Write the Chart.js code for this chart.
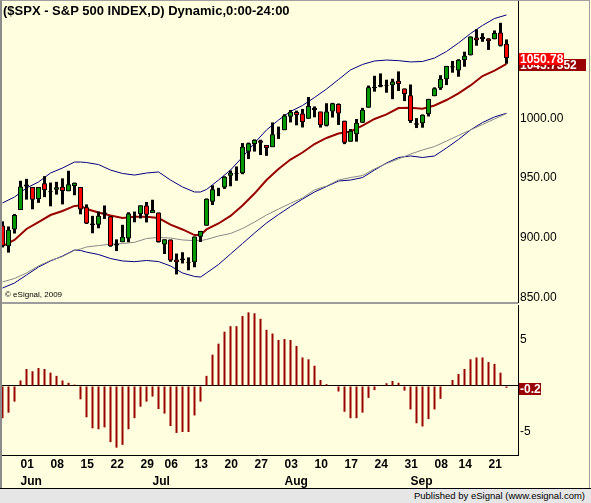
<!DOCTYPE html>
<html>
<head>
<meta charset="utf-8">
<title>$SPX - S&amp;P 500 INDEX,D</title>
<script src="https://cdn.jsdelivr.net/npm/chart.js@4.4.1/dist/chart.umd.min.js"></script>
<style>
    html, body { margin: 0; padding: 0; background: #FFFFE0; }
    #pantalla { position: relative; width: 591px; height: 503px; background: #FFFFE0; overflow: hidden;
        font-family: "Liberation Sans", Arial, sans-serif; color: #000; }
    #grafico1 { position: absolute; left: 0; top: 0; }
    #grafico2 { position: absolute; left: 0; top: 305px; }
    #titulo { position: absolute; left: 3px; top: 4px; font-weight: bold; font-size: 13px; line-height: 13px; white-space: nowrap; }
    #copy { position: absolute; left: 5px; top: 291px; font-size: 8px; line-height: 8px; white-space: nowrap; }
    #separador { position: absolute; left: 0; top: 302px; width: 518px; height: 2px; background: #9c9c9c; }
    #marco { position: absolute; left: 0; top: 0; width: 587px; height: 488px; border-left: 2px solid #8c8c8c;
        border-top: 1px solid #a0a0a0; border-right: 1px solid #a0a0a0; pointer-events: none; }
    #lineaPie { position: absolute; left: 0; top: 488px; width: 591px; height: 1px; background: #000; }
    #pie { position: absolute; left: 0; top: 489px; width: 585px; height: 14px; padding-right: 6px; background: #E6E6E6;
        font-size: 9.5px; line-height: 14px; text-align: right; white-space: nowrap; }
</style>
</head>
<body>
<div id="pantalla">
    <canvas id="grafico1" width="590" height="303"></canvas>
    <canvas id="grafico2" width="590" height="183"></canvas>
    <div id="separador"></div>
    <div id="titulo">($SPX - S&amp;P 500 INDEX,D) Dynamic,0:00-24:00</div>
    <div id="copy">© eSignal, 2009</div>
    <div id="marco"></div>
    <div id="lineaPie"></div>
    <div id="pie">Published by eSignal (www.esignal.com)</div>
</div>
<script>
// Velas diarias del 27 de mayo al 24 de septiembre de 2009 (indice 0 = 27 may)
const aperturas = [
    910.3, 893.0, 907.0, 923.3, 942.9, 942.5, 932.5, 945.7, 938.1, 940.3,
    942.7, 939.0, 943.4, 942.5, 925.6, 911.9, 910.9, 920.0, 918.1, 893.5,
    896.3, 899.5, 918.8, 919.9, 927.1, 920.8, 921.2, 894.3, 898.6, 881.9,
    881.3, 880.0, 879.6, 900.8, 910.2, 930.2, 940.6, 942.1, 952.0, 953.4,
    954.1, 972.2, 978.6, 981.5, 977.7, 976.0, 986.8, 990.2, 1001.4, 1005.4,
    1004.1, 999.8, 1008.9, 1005.8, 994.0, 1005.9, 1012.2, 998.2, 980.6, 986.9,
    996.4, 1009.1, 1026.6, 1026.6, 1027.4, 1027.8, 1031.6, 1025.2, 1019.5, 996.1,
    996.1, 1003.8, 1018.7, 1025.4, 1033.0, 1043.9, 1040.2, 1049.0, 1053.0, 1067.9,
    1066.6, 1067.1, 1066.4, 1072.1, 1062.6
];
const maximos = [
    913.8, 909.5, 920.0, 947.8, 949.4, 942.5, 942.5, 951.7, 946.3, 946.9,
    949.8, 956.2, 946.3, 942.5, 928.0, 918.4, 922.0, 927.1, 918.1, 898.7,
    910.9, 921.4, 922.0, 927.1, 930.0, 931.9, 921.2, 898.7, 898.6, 886.8,
    887.9, 883.6, 901.1, 905.8, 933.0, 944.0, 941.9, 951.6, 956.5, 959.8,
    979.4, 979.8, 982.5, 982.2, 977.8, 996.7, 993.2, 1003.6, 1007.1, 1006.6,
    1008.0, 1018.0, 1010.1, 1005.8, 1012.8, 1013.1, 1012.6, 998.2, 991.2, 999.6,
    1008.9, 1027.6, 1035.8, 1037.8, 1032.5, 1033.3, 1039.5, 1025.2, 1028.5, 1000.3,
    1003.4, 1016.5, 1026.1, 1036.3, 1044.1, 1048.2, 1049.7, 1056.0, 1068.8, 1074.8,
    1071.5, 1067.3, 1073.8, 1080.2, 1066.3
];
const minimos = [
    891.9, 887.6, 903.6, 923.3, 932.0, 923.9, 929.3, 934.1, 926.4, 936.2,
    928.0, 939.0, 935.7, 919.7, 911.6, 903.8, 908.0, 915.8, 892.5, 888.9,
    896.3, 896.3, 913.0, 916.2, 912.9, 920.8, 896.0, 886.4, 879.9, 869.3,
    878.5, 872.8, 875.3, 896.5, 910.2, 927.5, 934.9, 941.0, 943.2, 947.8,
    953.3, 966.0, 972.3, 969.4, 968.7, 976.0, 982.9, 990.2, 996.7, 994.3,
    992.5, 999.8, 1001.0, 992.4, 993.4, 1000.8, 994.6, 978.5, 980.6, 980.6,
    996.4, 1009.1, 1022.5, 1026.2, 1021.6, 1016.2, 1023.1, 1014.6, 996.3, 992.0,
    992.3, 1001.7, 1018.7, 1024.0, 1028.0, 1038.4, 1035.0, 1043.4, 1052.9, 1061.0,
    1064.3, 1057.5, 1066.4, 1060.4, 1045.9
];
const cierres = [
    893.1, 906.8, 919.1, 942.9, 944.7, 931.8, 942.5, 940.1, 939.1, 942.4,
    939.2, 944.9, 946.2, 923.7, 912.0, 910.7, 918.4, 921.2, 893.0, 895.1,
    900.9, 920.3, 918.9, 927.2, 919.3, 923.3, 896.4, 898.7, 881.0, 879.6,
    882.7, 879.1, 901.1, 905.8, 932.7, 940.7, 940.4, 951.1, 954.6, 954.1,
    976.3, 979.3, 982.2, 979.6, 975.2, 986.8, 987.5, 1002.6, 1005.7, 1002.7,
    997.1, 1010.5, 1007.1, 994.4, 1005.8, 1012.7, 1004.1, 979.7, 989.7, 996.5,
    1007.4, 1026.1, 1025.6, 1028.0, 1028.1, 1031.0, 1028.9, 1020.6, 998.0, 994.8,
    1003.2, 1016.4, 1025.4, 1033.4, 1044.1, 1042.7, 1049.3, 1052.6, 1068.8, 1065.5,
    1068.3, 1064.7, 1071.7, 1060.9, 1050.78
];

// Oscilador del panel inferior (un valor por vela)
const oscilador = [
    -3.5, -2.9, -1.7, 0.6, 1.85, 1.6, 1.95, 1.85, 1.45, 1.1,
    0.6, 0.35, 0.15, -1.45, -3.4, -4.6, -4.7, -4.5, -6.1, -6.7,
    -6.4, -4.7, -3.5, -2.25, -1.7, -1.15, -2.5, -3.0, -4.35, -5.1,
    -5.0, -5.0, -3.2, -1.7, 1.1, 3.4, 4.6, 5.9, 6.5, 6.5,
    7.6, 8.0, 7.9, 7.3, 6.1, 5.7, 5.0, 5.1, 5.0, 4.35,
    3.1, 2.9, 2.2, 0.65, 0.2, 0.1, -0.6, -2.8, -3.5, -3.5,
    -2.9, -1.3, -0.45, 0.1, 0.3, 0.55, 0.35, -0.5, -2.55, -4.05,
    -4.4, -3.6, -2.55, -1.4, 0.1, 0.65, 1.3, 1.85, 2.9, 3.1,
    3.1, 2.6, 2.4, 1.45, -0.2
];

const muestras = [0, 2, 4, 6, 8, 10, 12, 13, 14, 16, 18, 20, 22, 24, 26, 28, 30, 32, 33, 34,
    36, 38, 40, 42, 44, 46, 48, 50, 52, 54, 56, 58, 60, 62, 64, 66, 68, 70, 72, 74, 76, 78, 80, 82, 84];
const promedio = [893.1, 898.2, 907.4, 913.2, 919.1, 922.5, 926.7, 927.1, 924.1, 921.2,
    918.7, 916.6, 917.7, 917.7, 916.6, 911.1, 907.0, 902.3, 902.3, 907.0,
    912.0, 918.3, 927.1, 937.1, 948.4, 957.7, 965.6, 971.5, 978.6, 983.7,
    987.4, 989.1, 994.1, 999.6, 1003.4, 1008.8, 1009.1, 1008.1, 1010.9, 1015.5,
    1021.0, 1027.7, 1035.6, 1040.2, 1045.7352];
const bandaSuperior = [929.2, 934.2, 941.7, 946.8, 954.3, 958.5, 963.5, 963.5, 963.1, 961.4,
    956.8, 953.9, 952.6, 954.3, 955.2, 948.4, 942.6, 938.4, 938.4, 940.5,
    948.4, 956.8, 967.7, 979.5, 990.4, 998.7, 1005.9, 1010.9, 1017.6, 1024.7,
    1032.7, 1040.7, 1045.3, 1048.2, 1049.0, 1048.5, 1047.4, 1047.8, 1050.7, 1056.2,
    1063.3, 1071.2, 1078.0, 1083.8, 1086.8];
const bandaInferior = [857.9, 862.1, 868.8, 875.5, 880.6, 884.7, 889.8, 889.4, 888.0, 886.0,
    882.6, 880.6, 880.0, 881.0, 880.1, 876.4, 870.5, 867.6, 867.1, 870.5,
    877.6, 886.4, 895.2, 904.0, 912.4, 919.5, 926.2, 932.5, 938.4, 943.0,
    947.6, 948.4, 950.5, 956.8, 962.7, 967.3, 968.6, 967.3, 968.6, 975.3,
    982.4, 990.4, 996.6, 1001.3, 1004.4];
const lineaGris = [863.0, 865.9, 870.5, 876.4, 881.0, 884.3, 889.4, 890.6, 892.3, 893.5,
    894.6, 895.2, 896.2, 899.4, 900.3, 899.8, 898.2, 897.6, 897.6, 898.6,
    901.5, 903.6, 907.8, 913.2, 919.1, 924.1, 928.9, 933.4, 940.1, 943.4,
    948.4, 950.5, 952.2, 957.7, 962.3, 966.1, 970.2, 973.6, 976.5, 981.1,
    985.8, 990.4, 995.0, 999.6, 1004.2];

// Etiquetas de fechas
const indSemana = [3, 8, 13, 18, 23, 27, 32, 37, 42, 47, 52, 57, 62, 67, 72, 76, 81];
const diasSemana = ['01', '08', '15', '22', '29', '06', '13', '20', '27', '03', '10', '17', '24', '31', '08', '14', '21'];
const indMes = [3, 25, 47, 68];
const nombresMes = ['Jun', 'Jul', 'Aug', 'Sep'];

const ticksPrecio = [850, 900, 950, 1000, 1050];
const ticksOsc = [-5, 0, 5];

Chart.defaults.font.family = '"Liberation Sans", Arial, sans-serif';
Chart.defaults.color = '#000';

class graficos {

    static grafico1;
    static grafico2;
    static ejeX = { min: -0.41667, max: 85.91667 }; // 6 px por vela

    // Recuadro con el valor actual a la derecha del eje
    static pluginEtiquetas(items) {
        return {
            id: 'etiquetas',
            afterDraw(chart) {
                const ctx = chart.ctx;
                const escala = chart.scales.y;
                const x0 = chart.chartArea.right + 1;
                ctx.save();
                ctx.font = 'bold 12px "Liberation Sans", Arial, sans-serif';
                ctx.textBaseline = 'middle';
                items.forEach(it => {
                    const py = Math.round(escala.getPixelForValue(it.valor)) + 1;
                    ctx.fillStyle = it.fondo;
                    ctx.fillRect(x0, py - 6, it.ancho, 12);
                    ctx.fillStyle = '#fff';
                    ctx.fillText(it.texto, x0 + 1, py + 0.5);
                });
                ctx.restore();
            }
        };
    }

    static puntos(valores) {
        return muestras.map((m, i) => ({ x: m, y: valores[i] }));
    }

    static graficoPrecio() {
        const cuerpos = aperturas.map((o, i) => ({ x: i, y: [o, cierres[i]] }));
        const mechas = minimos.map((l, i) => ({ x: i, y: [l, maximos[i]] }));
        const colores = aperturas.map((o, i) => cierres[i] >= o ? '#009900' : '#ff0000');
        const ultimo = cierres[cierres.length - 1];
        const ultimoProm = promedio[promedio.length - 1];

        const ctx = document.getElementById('grafico1');
        graficos.grafico1 = new Chart(ctx, {
            type: 'bar',
            data: {
                datasets: [
                    { type: 'bar', data: cuerpos, backgroundColor: colores, borderColor: '#000', borderWidth: 1,
                      borderSkipped: false, barThickness: 5, grouped: false, inflateAmount: 0, order: 0 },
                    { type: 'bar', data: mechas, backgroundColor: '#000', borderWidth: 0,
                      barThickness: 3, grouped: false, inflateAmount: 0, order: 1 },
                    { type: 'line', data: graficos.puntos(promedio), borderColor: '#990000', borderWidth: 2,
                      pointRadius: 0, tension: 0, order: 2 },
                    { type: 'line', data: graficos.puntos(bandaSuperior), borderColor: '#000080', borderWidth: 1,
                      pointRadius: 0, tension: 0, order: 3 },
                    { type: 'line', data: graficos.puntos(lineaGris), borderColor: '#888888', borderWidth: 1,
                      pointRadius: 0, tension: 0, order: 4 },
                    { type: 'line', data: graficos.puntos(bandaInferior), borderColor: '#000080', borderWidth: 1,
                      pointRadius: 0, tension: 0, order: 5 }
                ]
            },
            options: {
                responsive: false,
                animation: false,
                events: [],
                layout: { padding: 0 },
                plugins: { legend: { display: false }, tooltip: { enabled: false } },
                scales: {
                    x: { type: 'linear', min: graficos.ejeX.min, max: graficos.ejeX.max, offset: false, display: false },
                    y: {
                        position: 'right',
                        min: 845.35,
                        max: 1099.33,
                        grid: { display: false, drawTicks: false },
                        border: { display: true, color: '#000', width: 1 },
                        afterBuildTicks: s => { s.ticks = ticksPrecio.map(v => ({ value: v })); },
                        afterFit: s => { s.width = 72; s.paddingTop = 0; s.paddingBottom = 0; },
                        ticks: { padding: 2, font: { size: 12 }, callback: v => Number(v).toFixed(2) }
                    }
                }
            },
            plugins: [graficos.pluginEtiquetas([
                { valor: ultimoProm, texto: ultimoProm.toFixed(4), fondo: '#990000', ancho: 67 },
                { valor: ultimo, texto: ultimo.toFixed(2), fondo: '#ff0000', ancho: 45 }
            ])]
        });
    }

    static graficoOscilador() {
        const barras = oscilador.map((v, i) => ({ x: i, y: v }));
        const ultimo = oscilador[oscilador.length - 1];
        const ticksX = [...new Set(indSemana.concat(indMes))].sort((a, b) => a - b);

        const ctx2 = document.getElementById('grafico2');
        graficos.grafico2 = new Chart(ctx2, {
            type: 'bar',
            data: {
                datasets: [{ data: barras, backgroundColor: '#990000', borderWidth: 0,
                             barThickness: 2, inflateAmount: 0 }]
            },
            options: {
                responsive: false,
                animation: false,
                events: [],
                layout: { padding: 0 },
                plugins: { legend: { display: false }, tooltip: { enabled: false } },
                scales: {
                    x: {
                        type: 'linear', min: graficos.ejeX.min, max: graficos.ejeX.max, offset: false,
                        grid: { display: false, drawTicks: false },
                        border: { display: true, color: '#000', width: 1 },
                        afterBuildTicks: s => { s.ticks = ticksX.map(v => ({ value: v })); },
                        afterFit: s => { s.height = 33; s.paddingLeft = 0; s.paddingRight = 0; },
                        ticks: {
                            autoSkip: false, maxRotation: 0, minRotation: 0, align: 'start', padding: 1,
                            font: { size: 12, weight: 'bold', lineHeight: 1.4 },
                            callback: v => {
                                const d = indSemana.indexOf(v);
                                const m = indMes.indexOf(v);
                                const dia = d >= 0 ? diasSemana[d] : '';
                                return m >= 0 ? [dia, nombresMes[m]] : dia;
                            }
                        }
                    },
                    y: {
                        position: 'right',
                        min: -7.5,
                        max: 8.8,
                        grid: { drawTicks: false, color: c => (c.tick && c.tick.value === 0) ? '#000' : 'rgba(0,0,0,0)' },
                        border: { display: true, color: '#000', width: 1 },
                        afterBuildTicks: s => { s.ticks = ticksOsc.map(v => ({ value: v })); },
                        afterFit: s => { s.width = 72; s.paddingTop = 0; s.paddingBottom = 0; },
                        ticks: { padding: 2, font: { size: 12 }, callback: v => v === 0 ? '' : String(v) }
                    }
                }
            },
            plugins: [graficos.pluginEtiquetas([
                { valor: ultimo, texto: ultimo.toFixed(1), fondo: '#990000', ancho: 22 }
            ])]
        });
    }
}

// Inicializar graficos
document.addEventListener('DOMContentLoaded', () => {
    graficos.graficoPrecio();
    graficos.graficoOscilador();
});
</script>
</body>
</html>
